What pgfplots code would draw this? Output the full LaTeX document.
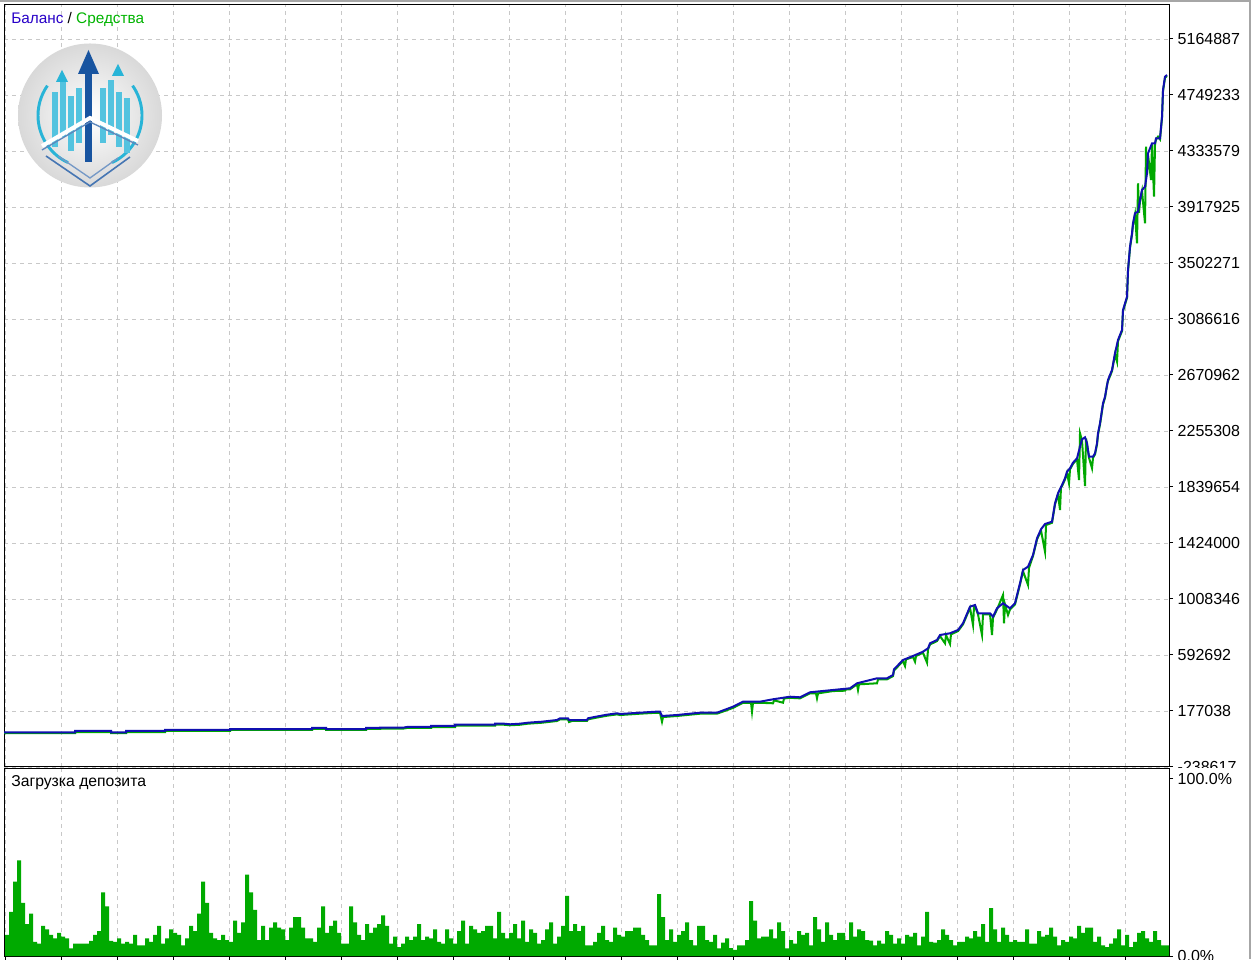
\documentclass[border=0pt]{standalone}
\usepackage{fontspec}
\setmainfont{Liberation Sans}
\usepackage{pgfplots}
\usepackage{pgfplotstable}
\pgfplotsset{compat=1.18}

\definecolor{balblue}{RGB}{16,16,176}
\definecolor{eqgreen}{RGB}{0,168,0}
\definecolor{bargreen}{RGB}{0,170,0}
\definecolor{gridgray}{RGB}{200,200,200}
\definecolor{lblblue}{RGB}{40,0,200}
\definecolor{lblgreen}{RGB}{0,180,0}
\definecolor{logoblue}{RGB}{24,84,160}
\definecolor{logocyan}{RGB}{40,180,215}

% deposit load, % per 4 px slot
\pgfplotstableread{
load
12
25
42
54
30
18
24
8
7
17
15
12
10
13
11
10
4.3
7
7
7
7
8.5
12
14
36
28
8.5
8
10
7
8
7
12
6
6
10
8
12
17
7
10
15
13
12
6
10
17
14
24
42
30
13
10
9
12
9
8
20
13
19
46
36
26
9
17
9
16
19
16
15
9
16
22
22
16
10
10
8
16
28
13
17
20
13
7
7
28
19
12
9
18
13
16
18
23
17
7
11
5
7
11
9
11
18
9
11
10
15
8
7
15
10
7
14
20
7
17
15
13
14
17
17
10
25
13
10
13
18
10
20
8
15
13
7
9
15
19
7
11
17
34
14
18
14
17
6
6
8
13
17
9
8
16
12
11
14
14
16
16
12
9
6
6
35
22
9
15
8
12
14
19
9
6
17
17
9
8
12
4.3
7.5
10
4.5
3.5
6
6
9
31
20
10
11
11
15
10
19
14
4.3
9
7
14
12
13
6
22
15
8
19
12
9
13
13
9
19
11
15
14
9
8.7
6
8.7
7
14
12
7
10
7
12
11
13
6
11
25
8
7.5
9
15
12
9
6
8
8
11
10
14
11
18
8
27
15
8
16
12
8
9
8
8
15
7
7
14
11
12
16
11
6
9
8
11
10
17
13
16
16
8
11
6
5
7
10
15
6
12
5
8
13
14
10
8
14
9
6
6
6
}\loadtbl

\pgfplotsset{mtpanel/.style={
  scale only axis, width=873.75pt,
  xmin=4, xmax=1169,
  axis line style={black, line width=0.75pt},
  grid style={gridgray, dash pattern=on 3pt off 3pt, line width=0.6pt},
  xtick={5.7,61.7,...,1125.7}, xticklabels={},
  tick style={black, line width=0.75pt},
  major tick length=3pt,
  tick align=outside,
  ytick pos=right, yticklabel pos=right,
  ticklabel style={font=\fontsize{12}{14}\selectfont},
  /pgf/number format/assume math mode=true,
  axis background/.style={fill=white},
}}

\begin{document}
\begin{tikzpicture}
\path[use as bounding box] (0,0) rectangle (938.25pt,719.25pt);

\begin{axis}[mtpanel,
  at={(3pt,144pt)}, anchor=south west, height=571.5pt,
  ymin=-238617, ymax=5417252,
  xmajorgrids, ymajorgrids, xtick style={draw=none},
  ytick={-238617,177038,592692,1008346,1424000,1839654,2255308,2670962,3086616,3502271,3917925,4333579,4749233,5164887},
  yticklabels={-238617,177038,592692,1008346,1424000,1839654,2255308,2670962,3086616,3502271,3917925,4333579,4749233,5164887},
]
% equity
\addplot[eqgreen, line width=1.5pt] coordinates {
(4,12000) (75,12000) (75,21000) (111,21000) (111,12000) (126,12000) (126,21000) (165,21000) (165,29000) (230,29000) (230,36000) (312,36000) (312,44000) (326,44000) (326,36000) (366,36000) (366,44000) (380,44000) (380,46000) (403,46000) (407,51000) (431,51000) (431,58000) (455,58000) (455,68000) (495,68000) (495,75000) (504,75000) (510,71000) (520,75000) (528,83000) (542,90000) (557,103000) (560,115000) (568,115000) (569,95000) (572,103000) (587,103000) (588,115000) (596,127000) (607,142000) (617,152000) (620,147000) (640,157000) (656,164000) (660,164000) (662,97600) (663,132000) (677,140000) (700,157000) (717,157000) (733,200000) (743,238000) (751,238000) (752,171800) (753,238000) (760,238000) (773,234200) (774,256000) (783,238600) (784,270000) (790,275000) (800,271000) (810,308000) (816,308000) (817,271300) (818,308000) (833,325000) (845,327700) (846,337000) (850,338000) (857,375000) (858,332900) (859,375000) (877,382600) (878,412000) (887,412000) (893,436000) (894,478000) (903,547000) (905,511000) (906,560000) (913,577000) (915,543000) (916,585000) (923,609000) (927,535500) (928,634000) (930,671000) (937,696000) (940,733000) (945,679500) (946,740000) (950,674400) (951,746000) (958,770000) (963,820000) (970,943000) (973,815400) (974,950000) (975,955000) (978,894000) (982,741100) (983,894000) (990,894000) (992,741100) (993,869000) (997,931000) (1003,1038000) (1004,827982) (1005,968000) (1008,889600) (1010,931000) (1015,968000) (1020,1116000) (1023,1215000) (1028,1112300) (1029,1240000) (1033,1327000) (1037,1450000) (1041,1517000) (1045,1359400) (1046,1557000) (1052,1574000) (1055,1710000) (1058,1785000) (1060,1669000) (1061,1840000) (1062,1846000) (1065,1896000) (1067,1945000) (1069,1867100) (1070,1970000) (1073,2012000) (1077,2045000) (1079,1891600) (1080,2238200) (1082,2185000) (1085,1847100) (1086,2200000) (1087,2156000) (1089,2056000) (1092,1978500) (1093,2056000) (1095,2082000) (1097,2156000) (1098,2230000) (1100,2304000) (1103,2452000) (1105,2502000) (1107,2596700) (1108,2626000) (1112,2700000) (1115,2824000) (1117,2769700) (1118,2922000) (1122,2997000) (1123,3145000) (1127,3244000) (1128,3442000) (1130,3615000) (1132,3714000) (1133,3789000) (1135,3863000) (1137,3648500) (1138,4093900) (1139,3875000) (1140,3962000) (1142,4036000) (1145,3796900) (1146,4365500) (1147,4160000) (1148,4308000) (1151,4118300) (1152,4383000) (1154,3994300) (1155,4383000) (1156,4420000) (1158,4439700) (1160,4420000) (1162,4580000) (1163,4778000) (1165,4877000) (1167,4890000)
};
% balance
\addplot[balblue, line width=1.5pt] coordinates {
(4,18900) (75,18900) (75,28600) (111,28600) (111,18900) (126,18900) (126,28600) (165,28600) (165,36000) (230,36000) (230,43400) (312,43400) (312,50900) (326,50900) (326,43400) (366,43400) (366,50900) (380,50900) (380,53100) (403,53100) (407,58300) (431,58300) (431,65700) (455,65700) (455,75400) (495,75400) (495,82800) (504,82800) (510,78300) (520,82800) (528,90200) (542,97600) (557,110200) (560,122900) (568,122900) (569,110200) (587,110200) (588,122900) (596,134700) (607,149600) (617,160000) (620,154800) (640,164400) (656,171800) (660,171800) (662,139900) (677,147300) (700,164400) (717,164400) (733,209000) (743,246100) (760,246100) (773,263900) (790,283200) (800,278700) (810,315800) (833,332900) (850,345500) (857,382600) (877,419800) (887,419800) (893,444200) (894,486600) (903,555600) (913,585300) (923,617200) (928,642400) (930,679500) (937,704000) (940,741100) (950,753800) (958,778300) (963,828000) (970,951200) (975,963800) (978,902200) (990,902200) (993,877000) (997,939300) (1003,976400) (1010,939300) (1015,976400) (1020,1124900) (1023,1223600) (1028,1248100) (1033,1334900) (1037,1458900) (1041,1525700) (1045,1565000) (1052,1582100) (1055,1718700) (1058,1792900) (1062,1854500) (1065,1904200) (1067,1953200) (1070,1978500) (1073,2020000) (1077,2052700) (1080,2138800) (1082,2193700) (1085,2208500) (1087,2164000) (1089,2064600) (1093,2064600) (1095,2089800) (1097,2164000) (1098,2238200) (1100,2312500) (1103,2460900) (1105,2509900) (1108,2633900) (1112,2708100) (1115,2832000) (1118,2930700) (1122,3005000) (1123,3153400) (1127,3252100) (1128,3450300) (1130,3623300) (1132,3722700) (1133,3796900) (1135,3871200) (1138,3883000) (1140,3969900) (1142,4044100) (1145,4068600) (1147,4168100) (1148,4316500) (1152,4390700) (1155,4390700) (1156,4427800) (1160,4427800) (1162,4588200) (1163,4786300) (1165,4885100) (1167,4897700)
};
\end{axis}

% cover the part of the lowest price label that the lower panel hides
\fill[white] (877.5pt,143.25pt) rectangle (938.25pt,0pt);

\begin{axis}[mtpanel,
  at={(3pt,2.25pt)}, anchor=south west, height=140.25pt,
  ymin=0, ymax=105.65,
  xmajorgrids, xtick pos=bottom,
  ytick={0,100}, yticklabels={0.0\%,100.0\%},
]
\addplot[const plot, fill=bargreen, draw=none] table[x expr=\coordindex*4+5, y=load] {\loadtbl} \closedcycle;
\end{axis}

% decorations in pixel units, origin at the top-left corner
\begin{scope}[x=0.75pt, y=-0.75pt, shift={(0pt,719.25pt)}]
\node[anchor=west, inner sep=0pt, font=\fontsize{11.5}{14}\selectfont] at (11,20)
  {\textcolor{lblblue}{Баланс} / \textcolor{lblgreen}{Средства}};
\node[anchor=west, inner sep=0pt, font=\fontsize{11.8}{14}\selectfont] at (11,783) {Загрузка депозита};

% logo
\shade[inner color=white, outer color=gray!30] (90,115.5) circle (72);
\draw[logocyan, line width=2.2pt] (90,115.5) ++(115:52) arc (115:215:52);
\draw[logocyan, line width=2.2pt] (90,115.5) ++(-35:52) arc (-35:65:52);
\foreach \bx/\bt in {52/92, 60/82, 68/96, 76/88, 100/88, 108/80, 116/92, 124/98}
  \fill[logocyan!80!white] (\bx,\bt) rectangle ++(6,55);
\fill[logoblue] (85,72) rectangle (92,162);
\fill[logoblue] (78,74) -- (88.5,50) -- (99,74) -- cycle;
\fill[logocyan] (112,76) -- (118,64) -- (124,76) -- cycle;
\fill[logocyan] (56,82) -- (62,70) -- (68,82) -- cycle;
\draw[white, line width=3pt] (42,146) -- (90,118) -- (138,141);
\draw[logoblue!70, line width=1pt] (42,150) -- (90,122) -- (138,145);
\draw[logoblue!80, line width=1.2pt] (46,156) -- (90,186) -- (130,157);
\draw[logoblue!60, line width=1pt] (58,156) -- (90,178) -- (118,158);

% outer frame of the window
\draw[gray!70, line width=1.2pt] (0,0.8) -- (1251,0.8);
\draw[gray!70, line width=1.2pt] (1250.2,0) -- (1250.2,959);
\end{scope}
\end{tikzpicture}
\end{document}
